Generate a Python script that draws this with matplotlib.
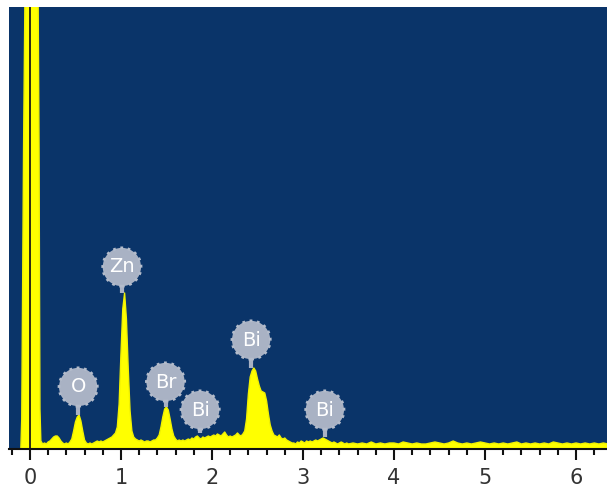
import numpy as np
import matplotlib.pyplot as plt

# EDS spectrum (energy in keV, counts in arbitrary units)
energy_lo = [-0.24, -0.10, -0.09, -0.07, -0.04, 0.08, 0.10, 0.11,
             0.12, 0.14, 0.16, 0.18, 0.20, 0.22, 0.24, 0.26, 0.28, 0.30,
             0.32, 0.34, 0.36, 0.38, 0.40, 0.42, 0.44, 0.46, 0.48, 0.50,
             0.52, 0.54, 0.56, 0.58, 0.60, 0.62, 0.64, 0.66, 0.68, 0.70,
             0.72, 0.74, 0.76, 0.78, 0.80, 0.82, 0.84, 0.86, 0.88, 0.90,
             0.92, 0.94, 0.96, 0.98, 1.00, 1.02, 1.04, 1.06, 1.08, 1.10,
             1.12, 1.14, 1.16, 1.18, 1.20, 1.22, 1.24, 1.26, 1.28, 1.30,
             1.32, 1.34, 1.36, 1.38, 1.40, 1.42, 1.44, 1.46, 1.48, 1.50,
             1.52, 1.54, 1.56, 1.58, 1.60, 1.62, 1.64, 1.66, 1.68, 1.70,
             1.72, 1.74, 1.76, 1.78, 1.80, 1.82, 1.84, 1.86, 1.88, 1.90,
             1.92, 1.94, 1.96, 1.98, 2.00, 2.02, 2.04, 2.06, 2.08, 2.10,
             2.12, 2.14, 2.16, 2.18, 2.20, 2.22, 2.24, 2.26, 2.28, 2.30,
             2.32, 2.34, 2.36, 2.38, 2.40, 2.42, 2.44, 2.46, 2.48, 2.50,
             2.52, 2.54, 2.56, 2.58, 2.60, 2.62, 2.64, 2.66, 2.68, 2.70,
             2.72, 2.74, 2.76, 2.78, 2.80, 2.82, 2.84, 2.86, 2.88, 2.90,
             2.92, 2.94, 2.96, 2.98, 3.00, 3.02, 3.04, 3.06, 3.08, 3.10,
             3.12, 3.14, 3.16, 3.18, 3.20, 3.22, 3.24, 3.26, 3.28, 3.30,
             3.32, 3.34, 3.36, 3.38, 3.40, 3.42, 3.44, 3.46, 3.48, 3.50]
counts_lo = [0, 0, 30, 300, 600, 600, 300, 40,
             8, 5, 6, 5, 7, 8, 10, 12, 13, 13,
             11, 8, 6, 5, 6, 5, 7, 10, 18, 27,
             32, 34, 28, 18, 9, 6, 5, 6, 5, 6,
             7, 8, 7, 8, 7, 8, 9, 10, 11, 12,
             14, 16, 22, 45, 95, 140, 156, 130, 80, 38,
             18, 12, 10, 9, 8, 9, 8, 7, 8, 8,
             7, 8, 9, 9, 11, 14, 22, 32, 40, 42,
             39, 30, 20, 13, 10, 8, 9, 8, 9, 8,
             9, 10, 9, 11, 10, 12, 13, 11, 10, 12,
             11, 12, 13, 12, 13, 14, 13, 15, 14, 13,
             15, 17, 14, 12, 13, 12, 13, 14, 16, 14,
             13, 15, 18, 30, 55, 72, 78, 81, 78, 70,
             63, 58, 57, 56, 48, 35, 24, 18, 14, 13,
             12, 14, 11, 10, 11, 9, 8, 7, 6, 6,
             5, 7, 6, 8, 7, 6, 8, 7, 8, 7,
             8, 9, 8, 9, 10, 11, 10, 9, 8, 7,
             6, 7, 6, 5, 6, 7, 6, 5, 6, 5]
counts_hi = [6, 5, 6, 5, 7, 5, 6, 5, 6, 6,
             5, 7, 6, 5, 6, 5, 5, 6, 7, 6,
             5, 6, 8, 6, 5, 6, 5, 6, 7, 6,
             5, 6, 5, 6, 5, 6, 7, 5, 6, 5,
             6, 5, 6, 5, 7, 6, 5, 6, 5, 6,
             5, 6, 5, 6, 5, 6, 5]
energy_hi = np.arange(3.55, 6.36, 0.05)[:len(counts_hi)]

energy = np.concatenate([energy_lo, energy_hi])
counts = np.concatenate([counts_lo, counts_hi])

# peak labels
elements = ["O", "Zn", "Br", "Bi", "Bi", "Bi"]
label_energy = [0.53, 1.01, 1.49, 1.87, 2.43, 3.24]
peak_tops = [34, 156, 42, 16, 81, 12]
label_height = [62, 182, 67, 39, 109, 39]

fig = plt.figure(figsize=(6.07, 4.97), dpi=100)
ax = fig.add_axes([9 / 607, 48 / 497, 598 / 607, 442 / 497])
ax.set_facecolor("#0a3469")

ax.fill_between(energy, counts, 0, color="#ffff00", lw=0)
ax.plot(energy, counts, color="#f2f200", lw=1)
ax.axvline(0, color="#1a1a1a", lw=1.3)

for el, e, top, h in zip(elements, label_energy, peak_tops, label_height):
    ax.plot([e, e], [top, h], color="#a9b2c4", lw=3, solid_capstyle="butt", zorder=4)
    ax.scatter([e], [h], s=760, color="#a9b2c4", edgecolors="#b4bccb",
               linewidths=2, linestyles=":", zorder=5)
    ax.text(e, h, el, color="white", fontsize=14, ha="center", va="center",
            zorder=6)

ax.set_xlim(-0.23, 6.34)
ax.set_ylim(0, 442)
ax.set_xticks(range(0, 7))
ax.set_xticks(np.arange(-0.2, 6.4, 0.2), minor=True)
ax.set_yticks([])
ax.tick_params(axis="x", which="major", length=8, width=1.5, color="#111111",
               labelsize=15, labelcolor="#333333", pad=6)
ax.tick_params(axis="x", which="minor", length=4, width=1.5, color="#111111")
for s in ["top", "right", "left"]:
    ax.spines[s].set_visible(False)
ax.spines["bottom"].set_linewidth(1.5)
ax.spines["bottom"].set_color("#111111")

fig.savefig("out.png", dpi=100)
